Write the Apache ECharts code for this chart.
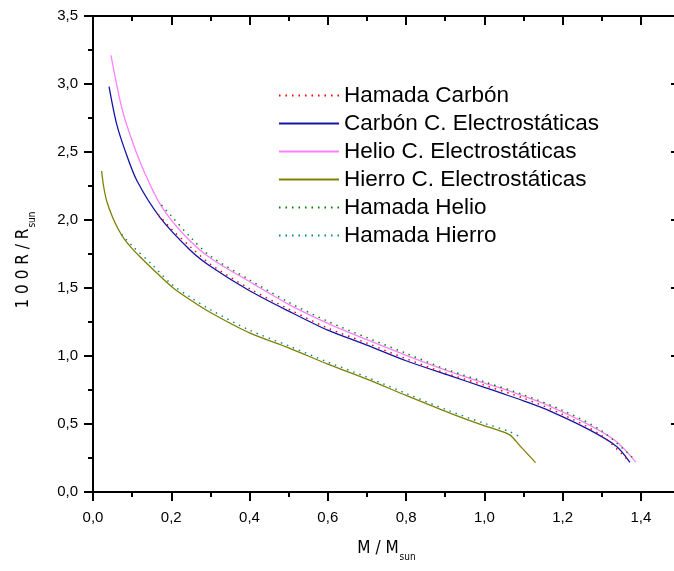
<!DOCTYPE html>
<html>
<head>
<meta charset="utf-8">
<script src="https://cdn.jsdelivr.net/npm/echarts@6/dist/echarts.min.js"></script>
<style>
  html, body { margin: 0; padding: 0; background: #fff; }
  #chart { width: 674px; height: 571px; }
</style>
</head>
<body>
<div id="chart"></div>
<script>
// Mass-radius relations of white dwarfs: M / M_sun versus 100 R / R_sun
var carbonM = [0.041, 0.060, 0.082, 0.112, 0.171, 0.248, 0.300, 0.400, 0.500, 0.600, 0.700, 0.800, 0.912, 1.000, 1.040, 1.100, 1.168, 1.270, 1.338, 1.372];
var carbonR = [2.98, 2.71, 2.51, 2.29, 2.02, 1.78, 1.66, 1.48, 1.33, 1.19, 1.08, 0.965, 0.855, 0.77, 0.73, 0.67, 0.595, 0.455, 0.335, 0.218];

var helioM = [0.046, 0.073, 0.099, 0.133, 0.175, 0.233, 0.300, 0.410, 0.500, 0.600, 0.700, 0.800, 0.912, 1.000, 1.040, 1.100, 1.168, 1.270, 1.338, 1.387];
var helioR = [3.21, 2.83, 2.59, 2.34, 2.10, 1.89, 1.72, 1.53, 1.38, 1.24, 1.12, 1.005, 0.885, 0.80, 0.765, 0.705, 0.63, 0.49, 0.37, 0.22];

var hierroM = [0.022, 0.027, 0.035, 0.050, 0.065, 0.080, 0.100, 0.120, 0.163, 0.205, 0.250, 0.300, 0.400, 0.500, 0.600, 0.700, 0.800, 0.912, 0.997, 1.035, 1.065, 1.090, 1.131];
var hierroR = [2.36, 2.25, 2.14, 2.02, 1.93, 1.86, 1.79, 1.73, 1.61, 1.50, 1.41, 1.32, 1.17, 1.06, 0.94, 0.83, 0.71, 0.58, 0.49, 0.455, 0.42, 0.343, 0.216];

var hamCarbonM = [0.167, 0.200, 0.250, 0.300, 0.400, 0.500, 0.600, 0.700, 0.800, 0.900, 1.000, 1.100, 1.200, 1.300, 1.370];
var hamCarbonR = [2.04, 1.935, 1.80, 1.675, 1.495, 1.345, 1.205, 1.095, 0.98, 0.875, 0.785, 0.69, 0.57, 0.415, 0.225];

var hamHelioM = [0.175, 0.200, 0.250, 0.300, 0.400, 0.500, 0.600, 0.700, 0.800, 0.900, 1.000, 1.100, 1.200, 1.300, 1.387];
var hamHelioR = [2.11, 2.03, 1.87, 1.735, 1.56, 1.395, 1.255, 1.135, 1.02, 0.905, 0.81, 0.715, 0.60, 0.45, 0.23];

var hamHierroM = [0.073, 0.100, 0.150, 0.200, 0.250, 0.300, 0.400, 0.500, 0.600, 0.700, 0.800, 0.912, 1.000, 1.065, 1.098];
var hamHierroR = [1.895, 1.81, 1.675, 1.53, 1.43, 1.34, 1.19, 1.075, 0.955, 0.845, 0.725, 0.595, 0.505, 0.443, 0.395];

var xTicks = ['0,0', '0,2', '0,4', '0,6', '0,8', '1,0', '1,2', '1,4'];
var yTicks = ['0,0', '0,5', '1,0', '1,5', '2,0', '2,5', '3,0', '3,5'];

function pairs(xs, ys) {
  return xs.map(function (x, i) { return [x, ys[i]]; });
}

var labelFont = "'Liberation Sans', Arial, sans-serif";
var titleFont = "'Liberation Sans Narrow', 'DejaVu Sans Condensed', 'Liberation Sans', sans-serif";
var frame = { show: true, lineStyle: { color: '#000', width: 2 } };

function xAxisCfg(pos, labels) {
  return {
    type: 'value', position: pos, min: 0, max: 1.5, interval: 0.2,
    axisLine: Object.assign({ onZero: false }, frame),
    axisTick: { show: true, inside: pos === 'top', length: 9, lineStyle: { color: '#000', width: 2 } },
    minorTick: { show: true, splitNumber: 2, length: 5, lineStyle: { color: '#000', width: 2 } },
    splitLine: { show: false },
    axisLabel: {
      show: labels, margin: 18, color: '#000', fontSize: 15, fontFamily: labelFont,
      formatter: function (v) { var i = Math.round(v / 0.2); return xTicks[i] || ''; }
    }
  };
}

function yAxisCfg(pos, labels) {
  return {
    type: 'value', position: pos, min: 0, max: 3.5, interval: 0.5,
    axisLine: Object.assign({ onZero: false }, frame),
    axisTick: { show: true, inside: pos === 'right', length: 9, lineStyle: { color: '#000', width: 2 } },
    minorTick: { show: true, splitNumber: 2, length: 5, lineStyle: { color: '#000', width: 2 } },
    splitLine: { show: false },
    axisLabel: {
      show: labels, margin: 15, color: '#000', fontSize: 15, fontFamily: labelFont,
      formatter: function (v) { var i = Math.round(v / 0.5); return yTicks[i] || ''; }
    }
  };
}

var xBottom = xAxisCfg('bottom', true);
xBottom.name = '{a|M / M}{b|sun}';
xBottom.nameLocation = 'middle';
xBottom.nameGap = 44;
xBottom.nameTextStyle = {
  color: '#000', fontFamily: titleFont,
  rich: { a: { fontSize: 17, fontFamily: titleFont, color: '#000' },
          b: { fontSize: 10, fontFamily: titleFont, color: '#000', padding: [16, 0, 0, 1] } }
};

var yLeft = yAxisCfg('left', true);
yLeft.name = '{a|1 0 0 R / R}{b|sun}';
yLeft.nameLocation = 'middle';
yLeft.nameGap = 56;
yLeft.nameRotate = 90;
yLeft.nameTextStyle = {
  color: '#000', fontFamily: titleFont, padding: [0, 12, 0, 0],
  rich: { a: { fontSize: 17, fontFamily: titleFont, color: '#000' },
          b: { fontSize: 10, fontFamily: titleFont, color: '#000', padding: [16, 0, 0, 1] } }
};

function lineSeries(name, xs, ys, color, dotted) {
  return {
    name: name, type: 'line', xAxisIndex: 0, yAxisIndex: 0,
    data: pairs(xs, ys), smooth: 0.3, symbol: 'none', showSymbol: false,
    lineStyle: dotted ? { color: color, width: 1.4, type: [1.5, 5] } : { color: color, width: 1.3 },
    itemStyle: { color: color },
    z: dotted ? 3 : 2
  };
}

var chart = echarts.init(document.getElementById('chart'), null, { renderer: 'canvas' });
chart.setOption({
  backgroundColor: '#fff',
  animation: false,
  grid: { left: 93, right: -6, top: 16, bottom: 79, containLabel: false, outerBoundsMode: 'none' },
  xAxis: [xBottom, xAxisCfg('top', false)],
  yAxis: [yLeft, yAxisCfg('right', false)],
  legend: {
    orient: 'vertical', left: 273, top: 79,
    itemWidth: 60, itemHeight: 10, itemGap: 5,
    itemStyle: { opacity: 0 },
    textStyle: { fontSize: 22.5, fontFamily: labelFont, color: '#000', lineHeight: 23 },
    data: ['Hamada Carbón', 'Carbón C. Electrostáticas', 'Helio C. Electrostáticas',
           'Hierro C. Electrostáticas', 'Hamada Helio', 'Hamada Hierro']
  },
  series: [
    lineSeries('Carbón C. Electrostáticas', carbonM, carbonR, '#1414a8', false),
    lineSeries('Helio C. Electrostáticas', helioM, helioR, '#ff80ff', false),
    lineSeries('Hierro C. Electrostáticas', hierroM, hierroR, '#808000', false),
    lineSeries('Hamada Carbón', hamCarbonM, hamCarbonR, '#ff0000', true),
    lineSeries('Hamada Helio', hamHelioM, hamHelioR, '#008000', true),
    lineSeries('Hamada Hierro', hamHierroM, hamHierroR, '#008b8b', true)
  ]
});
</script>
</body>
</html>
